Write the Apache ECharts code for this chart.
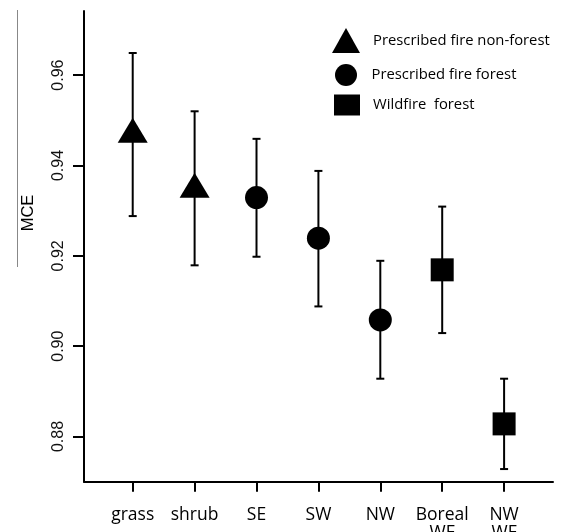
<!DOCTYPE html>
<html>
<head>
<meta charset="utf-8">
<script src="https://cdn.jsdelivr.net/npm/echarts@6/dist/echarts.min.js"></script>
<style>html,body{margin:0;padding:0;background:#fff;}#c{width:562px;height:532px;}</style>
</head>
<body>
<div id="c"></div>
<script>
var categories = ['grass', 'shrub', 'SE', 'SW', 'NW', 'Boreal\nWF', 'NW\nWF'];
var mce = [0.9478, 0.9356, 0.9329, 0.9239, 0.9058, 0.9169, 0.8828];
var upper = [0.9649, 0.9520, 0.9459, 0.9388, 0.9189, 0.9309, 0.8928];
var lower = [0.9288, 0.9179, 0.9198, 0.9088, 0.8928, 0.9029, 0.8728];
var group = [0, 0, 1, 1, 1, 2, 2];
var groupNames = ['Prescribed fire non-forest', 'Prescribed fire forest', 'Wildfire  forest'];
var yTicks = [0.88, 0.90, 0.92, 0.94, 0.96];

var chart = echarts.init(document.getElementById('c'), null, {renderer: 'canvas'});

function groupData(g) {
  var out = [];
  for (var i = 0; i < mce.length; i++) if (group[i] === g) out.push([i, mce[i]]);
  return out;
}
var errData = mce.map(function (v, i) { return [i, lower[i], upper[i]]; });
var idx = categories.map(function (c, i) { return i; });

var symbols = ['triangle', 'circle', 'rect'];
var sizes = [[30, 25], 23, 23];
var series = [{
  type: 'custom',
  z: 1,
  data: errData,
  renderItem: function (params, api) {
    var x = api.value(0);
    var lo = api.coord([x, api.value(1)]);
    var hi = api.coord([x, api.value(2)]);
    var cw = 4;
    var st = {stroke: '#000', lineWidth: 2};
    return {
      type: 'group',
      children: [
        {type: 'line', shape: {x1: lo[0], y1: lo[1], x2: hi[0], y2: hi[1]}, style: st},
        {type: 'line', shape: {x1: hi[0] - cw, y1: hi[1], x2: hi[0] + cw, y2: hi[1]}, style: st},
        {type: 'line', shape: {x1: lo[0] - cw, y1: lo[1], x2: lo[0] + cw, y2: lo[1]}, style: st}
      ]
    };
  },
  silent: true
}];
for (var g = 0; g < 3; g++) {
  series.push({
    type: 'scatter',
    name: groupNames[g],
    z: 3,
    symbol: symbols[g],
    symbolSize: sizes[g],
    itemStyle: {color: '#000', opacity: 1},
    data: groupData(g)
  });
}

var legendFont = {fontFamily: 'Open Sans', fontSize: 14.8, color: '#000', padding: [0, 0, 0, 8]};
var option = {
  animation: false,
  backgroundColor: '#fff',
  grid: {left: 84, right: 9, top: 11, bottom: 50.3, containLabel: false, outerBoundsMode: 'none'},
  legend: [
    {data: [groupNames[0]], left: 332, top: 28, padding: 0, itemWidth: 28, itemHeight: 25, icon: 'triangle', textStyle: legendFont},
    {data: [groupNames[1]], left: 335, top: 64, padding: 0, itemWidth: 25, itemHeight: 22, icon: 'circle', textStyle: legendFont},
    {data: [groupNames[2]], left: 334, top: 94.5, padding: 0, itemWidth: 26, itemHeight: 21, icon: 'rect', textStyle: legendFont}
  ],
  xAxis: {
    type: 'value',
    min: -0.787,
    max: 6.79,
    splitLine: {show: false},
    axisLine: {onZero: false, lineStyle: {color: '#000', width: 2}},
    axisTick: {show: true, length: 10, lineStyle: {color: '#000', width: 2}, customValues: idx},
    axisLabel: {
      customValues: idx,
      formatter: function (v) { return categories[Math.round(v)]; },
      fontFamily: 'Open Sans', fontSize: 17.5, color: '#000', margin: 24, lineHeight: 18,
      verticalAlign: 'top'
    }
  },
  yAxis: {
    type: 'value',
    min: 0.87,
    max: 0.9742,
    splitLine: {show: false},
    axisLine: {show: true, onZero: false, lineStyle: {color: '#000', width: 2}},
    axisTick: {show: true, length: 11, lineStyle: {color: '#000', width: 2}, customValues: yTicks},
    axisLabel: {
      customValues: yTicks,
      formatter: function (v) { return v.toFixed(2); },
      rotate: 90,
      fontFamily: 'Liberation Sans', fontSize: 16, color: '#111', margin: 17
    }
  },
  graphic: [
    {type: 'line', shape: {x1: 17.5, y1: 10, x2: 17.5, y2: 267}, style: {stroke: '#888', lineWidth: 1}},
    {type: 'text', x: 28, y: 213, rotation: Math.PI / 2,
     style: {text: 'MCE', fontFamily: 'Liberation Sans', fontSize: 16.5, fill: '#000', align: 'center', verticalAlign: 'middle'}}
  ],
  series: series
};
chart.setOption(option);
</script>
</body>
</html>
